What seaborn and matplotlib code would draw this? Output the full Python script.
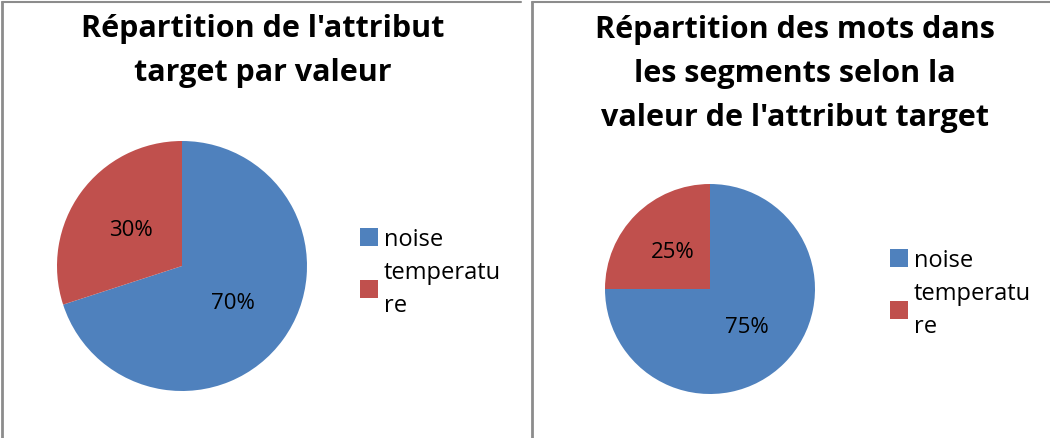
import matplotlib
matplotlib.use("Agg")
import matplotlib.pyplot as plt
from matplotlib.lines import Line2D
import seaborn as sns

# -----------------------------
# Data
# -----------------------------
categories = ["noise", "temperatu\nre"]
target_share = [70, 30]
words_share = [75, 25]
title_left = "Répartition de l'attribut\ntarget par valeur"
title_right = "Répartition des mots dans\nles segments selon la\nvaleur de l'attribut target"

sns.set_style("white")
plt.rcParams["font.family"] = ["Open Sans", "DejaVu Sans"]
plt.rcParams["text.color"] = "black"
colors = ["#4F81BD", "#C0504D"]

W, H = 1050, 439
fig = plt.figure(figsize=(W / 100, H / 100), dpi=100)


def px_axes(cx, cy, r):
    return fig.add_axes([(cx - r) / W, (H - cy - r) / H, 2 * r / W, 2 * r / H])


def draw_pie(ax, values):
    wedges, _, autotexts = ax.pie(values, colors=colors, startangle=90, counterclock=False,
                                  autopct="%d%%", pctdistance=0.5,
                                  wedgeprops=dict(linewidth=0),
                                  textprops=dict(fontsize=16, color="black"))
    ax.set_xlim(-1, 1)
    ax.set_ylim(-1, 1)
    ax.set_aspect("equal")
    ax.axis("off")
    return wedges


def legend(wedges, x, y):
    leg = fig.legend(wedges, categories, loc="center left", bbox_to_anchor=(x / W, 1 - y / H),
                     frameon=False, fontsize=17, handlelength=0.75, handleheight=0.75,
                     handletextpad=0.25, labelspacing=0.35, borderpad=0, borderaxespad=0,
                     labelcolor="black")
    for t in leg.get_texts():
        t.set_linespacing(1.5)


# left panel
ax1 = px_axes(182, 267, 125)
w1 = draw_pie(ax1, target_share)
legend(w1, 360, 273)
fig.text(263 / W, 1 - 51 / H, title_left, ha="center", va="center", fontsize=22,
         fontweight="bold", linespacing=1.6)

# right panel
ax2 = px_axes(710, 290, 105)
w2 = draw_pie(ax2, words_share)
legend(w2, 890, 294)
fig.text(795 / W, 1 - 74 / H, title_right, ha="center", va="center", fontsize=22,
         fontweight="bold", linespacing=1.6)

# panel frames (top and left edges)
grey = "#8c8c8c"
for x0, x1 in [(2, 521), (532, 1050)]:
    fig.add_artist(Line2D([x0 / W, x1 / W], [1 - 3 / H, 1 - 3 / H], color=grey, lw=1.5,
                          transform=fig.transFigure))
    fig.add_artist(Line2D([x0 / W, x0 / W], [1 - 3 / H, 0], color=grey, lw=2,
                          transform=fig.transFigure))

fig.savefig("out.png", dpi=100)
